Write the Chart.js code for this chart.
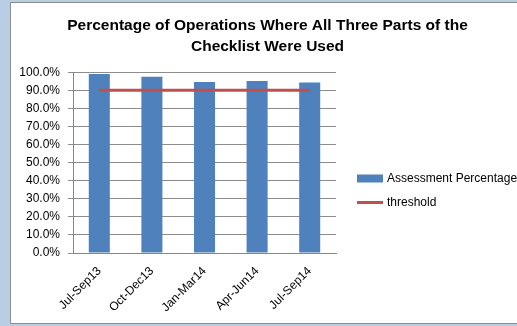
<!DOCTYPE html>
<html>
<head>
<meta charset="utf-8">
<script src="https://cdn.jsdelivr.net/npm/chart.js@4"></script>
<style>
    body { margin: 0; background: #b9cde5; }
    #wrap { width: 517px; height: 326px; }
</style>
</head>
<body>
<div id="wrap"><canvas id="checklist_chart" width="517" height="326"></canvas></div>
<script>
    var quarters = ['Jul-Sep13', 'Oct-Dec13', 'Jan-Mar14', 'Apr-Jun14', 'Jul-Sep14'];
    var assessment_pct = [99.0, 97.5, 94.7, 95.2, 94.3];
    var threshold = [90, 90, 90, 90, 90];
    var y_ticks = [0, 10, 20, 30, 40, 50, 60, 70, 80, 90, 100];

    var font_family = "'Liberation Sans', Arial, sans-serif";

    // frame behind the chart: blue strip on the left, grey edges, white panel
    var frame_plugin = {
        id: 'frame',
        beforeDraw: function (chart) {
            var ctx = chart.ctx;
            ctx.save();
            ctx.fillStyle = '#b9cde5';
            ctx.fillRect(0, 0, chart.width, chart.height);
            ctx.fillStyle = '#ffffff';
            ctx.fillRect(11, 3, chart.width - 11, 320);
            ctx.strokeStyle = '#8c8c8c';
            ctx.lineWidth = 1;
            ctx.beginPath();
            ctx.moveTo(10.5, 2.5);
            ctx.lineTo(chart.width, 2.5);
            ctx.moveTo(10.5, 2.5);
            ctx.lineTo(10.5, 323.5);
            ctx.lineTo(chart.width, 323.5);
            ctx.stroke();
            ctx.restore();
        }
    };

    // legend to the right of the plot, one row per dataset
    var side_legend = {
        id: 'side_legend',
        afterDraw: function (chart) {
            var ctx = chart.ctx;
            var x = 357, y = 178.5;
            ctx.save();
            ctx.font = '12px ' + font_family;
            ctx.textBaseline = 'middle';
            chart.data.datasets.forEach(function (ds) {
                if (ds.type === 'line') {
                    ctx.strokeStyle = ds.borderColor;
                    ctx.lineWidth = ds.borderWidth;
                    ctx.beginPath();
                    ctx.moveTo(x, y);
                    ctx.lineTo(x + 26, y);
                    ctx.stroke();
                } else {
                    ctx.fillStyle = ds.backgroundColor;
                    ctx.fillRect(x, y - 4, 26, 8);
                }
                ctx.fillStyle = '#000000';
                ctx.fillText(ds.label, x + 30, y);
                y += 24;
            });
            ctx.restore();
        }
    };

    var ctx = document.getElementById('checklist_chart');
    var checklist_chart = new Chart(ctx, {
        data: {
            labels: quarters,
            datasets: [
                {
                    type: 'bar',
                    label: 'Assessment Percentage',
                    data: assessment_pct,
                    backgroundColor: '#4f81bd',
                    borderWidth: 0,
                    categoryPercentage: 1.0,
                    barPercentage: 0.4,
                    order: 1
                },
                {
                    type: 'line',
                    label: 'threshold',
                    data: threshold,
                    borderColor: '#c0504d',
                    backgroundColor: '#c0504d',
                    borderWidth: 3,
                    pointRadius: 0,
                    fill: false,
                    order: 0
                }
            ]
        },
        options: {
            responsive: false,
            animation: false,
            layout: {
                padding: { left: 18, right: 0, top: 0, bottom: 0 }
            },
            plugins: {
                legend: { display: false },
                tooltip: { enabled: false },
                title: {
                    display: true,
                    text: ['Percentage of Operations Where All Three Parts of the', 'Checklist Were Used'],
                    color: '#000000',
                    font: { family: font_family, size: 15.5, weight: 'bold', lineHeight: 1.3 },
                    padding: { top: 16, bottom: 16 }
                }
            },
            scales: {
                x: {
                    grid: { display: false },
                    border: { color: '#868686' },
                    ticks: {
                        color: '#000000',
                        font: { family: font_family, size: 12 },
                        maxRotation: 45,
                        minRotation: 45,
                        autoSkip: false
                    },
                    afterFit: function (scale) { scale.height = 73; }
                },
                y: {
                    min: 0,
                    max: 100,
                    afterBuildTicks: function (scale) {
                        scale.ticks = y_ticks.map(function (v) { return { value: v }; });
                    },
                    grid: { color: '#8c8c8c', tickLength: 5 },
                    border: { color: '#868686' },
                    ticks: {
                        color: '#000000',
                        padding: 8,
                        font: { family: font_family, size: 12 },
                        callback: function (v) { return v.toFixed(1) + '%'; }
                    },
                    afterFit: function (scale) { scale.width = 55; }
                },
                y_space: {
                    type: 'linear',
                    position: 'right',
                    grid: { display: false },
                    border: { display: false },
                    ticks: { display: false },
                    afterFit: function (scale) { scale.width = 181; }
                }
            }
        },
        plugins: [frame_plugin, side_legend]
    });
</script>
</body>
</html>
